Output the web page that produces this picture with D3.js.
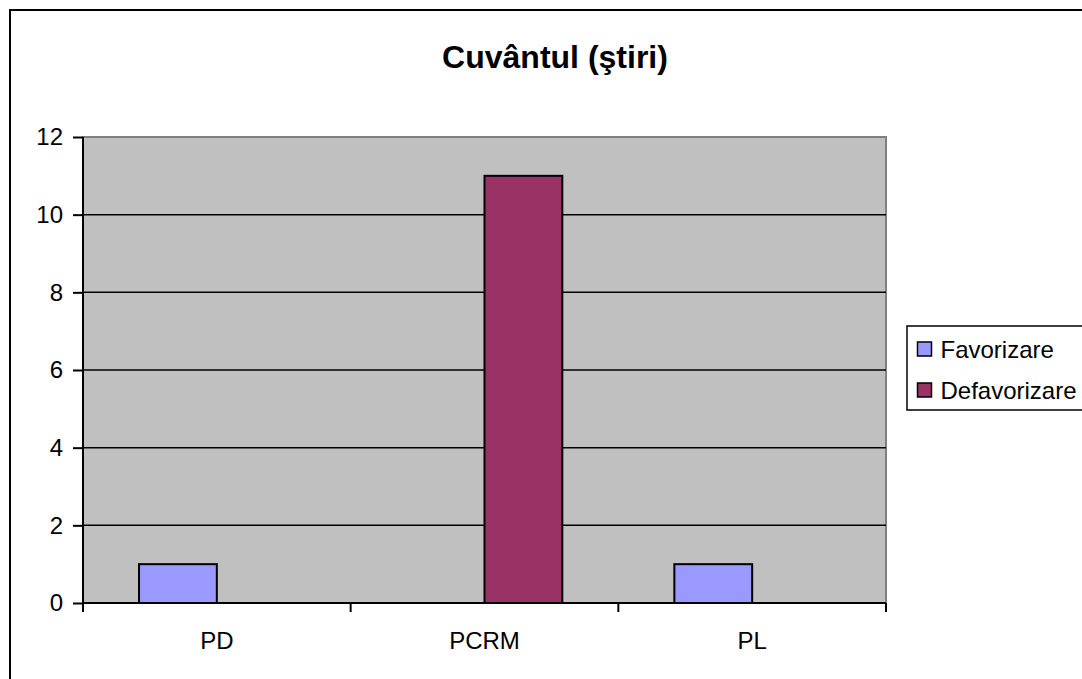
<!DOCTYPE html>
<html>
<head>
<meta charset="utf-8">
<script src="https://cdn.jsdelivr.net/npm/d3@7"></script>
<style>
  body { margin: 0; background: #fff; }
  svg { display: block; font-family: "Liberation Sans", Arial, sans-serif; }
</style>
</head>
<body>
<svg id="chart" width="1082" height="679"></svg>
<script>
// chart data
const categories = ["PD", "PCRM", "PL"];
const seriesNames = ["Favorizare", "Defavorizare"];
const favorizare = [1, 0, 1];
const defavorizare = [0, 11, 0];
const yTicks = [0, 2, 4, 6, 8, 10, 12];
const colors = ["#9999FF", "#993366"];

const width = 1082, height = 679;
const plot = { left: 83, right: 886, top: 137, bottom: 603 };
const font = `"Liberation Sans", Arial, sans-serif`;

const svg = d3.select("#chart");

// outer chart border (runs off the right/bottom edge)
svg.append("rect")
  .attr("x", 10).attr("y", 10)
  .attr("width", width + 20).attr("height", height + 20)
  .attr("fill", "#fff")
  .attr("stroke", "#000")
  .attr("stroke-width", 2);

// title
svg.append("text")
  .attr("x", 555).attr("y", 68)
  .attr("text-anchor", "middle")
  .style("font-size", "32px")
  .style("font-weight", "bold")
  .text("Cuvântul (ştiri)");

//scales
const x0 = d3.scaleBand()
  .domain(categories)
  .range([plot.left, plot.right])
  .paddingInner(0).paddingOuter(0);

const x1 = d3.scaleBand()
  .domain(seriesNames)
  .range([0, x0.bandwidth()])
  .paddingInner(0)
  .paddingOuter(0.72);

const y = d3.scaleLinear()
  .domain([0, 12])
  .range([plot.bottom, plot.top]);

// plot area background
svg.append("rect")
  .attr("x", plot.left).attr("y", plot.top)
  .attr("width", plot.right - plot.left)
  .attr("height", plot.bottom - plot.top)
  .attr("fill", "#C0C0C0")
  .attr("stroke", "#808080")
  .attr("stroke-width", 2);

// gridlines
svg.append("g")
  .selectAll("line")
  .data(yTicks.filter(d => d > 0 && d < 12))
  .join("line")
  .attr("x1", plot.left).attr("x2", plot.right)
  .attr("y1", d => y(d)).attr("y2", d => y(d))
  .attr("stroke", "#000")
  .attr("stroke-width", 1.5);

// bars
const data = categories.map((c, i) => ({
  cat: c,
  values: [
    { name: seriesNames[0], value: favorizare[i] },
    { name: seriesNames[1], value: defavorizare[i] }
  ]
}));

svg.append("g")
  .selectAll("g")
  .data(data)
  .join("g")
  .attr("transform", d => `translate(${x0(d.cat)},0)`)
  .selectAll("rect")
  .data(d => d.values.filter(v => v.value > 0))
  .join("rect")
  .attr("x", d => x1(d.name))
  .attr("y", d => y(d.value))
  .attr("width", x1.bandwidth())
  .attr("height", d => y(0) - y(d.value))
  .attr("fill", d => colors[seriesNames.indexOf(d.name)])
  .attr("stroke", "#000")
  .attr("stroke-width", 2);

// y axis
const yAxis = svg.append("g")
  .attr("class", "yaxis")
  .attr("transform", `translate(${plot.left},0)`)
  .call(d3.axisLeft(y).tickValues(yTicks).tickSize(10).tickPadding(10));
yAxis.select(".domain").remove();
yAxis.append("line")
  .attr("x1", 0).attr("x2", 0)
  .attr("y1", plot.top).attr("y2", plot.bottom + 9)
  .attr("stroke", "#000").attr("stroke-width", 2);
yAxis.selectAll(".tick line").attr("stroke", "#000").attr("stroke-width", 2);
yAxis.selectAll("text")
  .style("font-size", "24px")
  .style("font-family", font)
  .attr("fill", "#000");

// x axis
const xAxis = svg.append("g")
  .attr("class", "xaxis")
  .attr("transform", `translate(0,${plot.bottom})`)
  .call(d3.axisBottom(x0).tickSize(0).tickPadding(29));
xAxis.select(".domain").remove();
xAxis.append("line")
  .attr("x1", plot.left).attr("x2", plot.right)
  .attr("y1", 0).attr("y2", 0)
  .attr("stroke", "#000").attr("stroke-width", 2);
xAxis.selectAll("text")
  .style("font-size", "24px")
  .style("font-family", font)
  .attr("fill", "#000");

// category boundary ticks
const bounds = categories.map(c => x0(c)).concat([plot.right]);
xAxis.selectAll(".bound")
  .data(bounds)
  .join("line")
  .attr("class", "bound")
  .attr("x1", d => d).attr("x2", d => d)
  .attr("y1", 0).attr("y2", 9)
  .attr("stroke", "#000")
  .attr("stroke-width", 2);

// legend
const legend = svg.append("g");
legend.append("rect")
  .attr("x", 907).attr("y", 326)
  .attr("width", 200).attr("height", 84)
  .attr("fill", "#fff")
  .attr("stroke", "#000")
  .attr("stroke-width", 1.5);

const items = legend.selectAll("g.item")
  .data(seriesNames)
  .join("g")
  .attr("class", "item")
  .attr("transform", (d, i) => `translate(917.5,${342 + i * 41})`);
items.append("rect")
  .attr("width", 14).attr("height", 14)
  .attr("fill", (d, i) => colors[i])
  .attr("stroke", "#000")
  .attr("stroke-width", 1.5);
items.append("text")
  .attr("x", 23).attr("y", 15.5)
  .style("font-size", "24px")
  .text(d => d);
</script>
</body>
</html>
